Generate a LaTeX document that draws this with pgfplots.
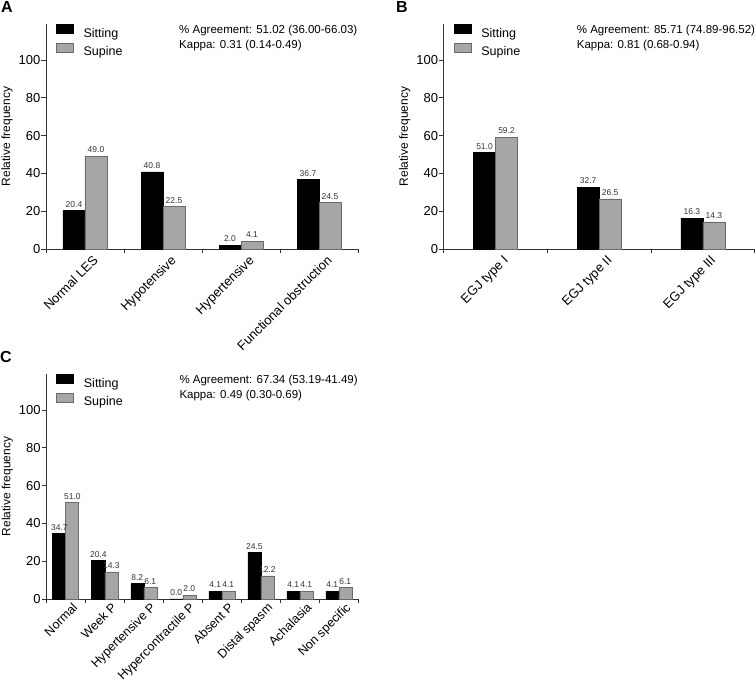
\documentclass[border=0pt]{standalone}
\usepackage{pgfplots}
\pgfplotsset{compat=1.18}
\usepackage{fontspec}
\setmainfont{Liberation Sans}
\definecolor{supfill}{HTML}{A6A6A6}
\definecolor{supedge}{HTML}{6B6B6B}
\definecolor{axcol}{HTML}{333333}
\definecolor{lblcol}{HTML}{333333}
\newcommand{\mainfont}{\fontsize{12}{14}\selectfont}
\newcommand{\tickfont}{\fontsize{13}{15}\selectfont}
\newcommand{\annfont}{\fontsize{11.5}{14}\selectfont}
\newcommand{\legfont}{\fontsize{12.5}{14}\selectfont}
\pgfplotsset{
  panel/.style={
    scale only axis, height=225pt, ymin=0, ymax=119, clip=false,
    axis lines=left, axis line style={-, draw=axcol, line width=0.8pt},
    ytick={0,20,...,100}, tick align=outside, major tick length=4.5pt,
    tick style={draw=axcol, line width=0.8pt},
    /pgf/number format/assume math mode=true,
    tick label style={font=\tickfont, text=black},
    yticklabel style={inner sep=1pt},
    xticklabel={\relax},
    ylabel={Relative frequency},
    every axis y label/.style={at={(axis description cs:-0.125,0.5)}, rotate=90, anchor=center, font=\mainfont},
    nodes near coords={\pgfmathprintnumber[fixed,fixed zerofill,precision=1,assume math mode=true]{\pgfplotspointmeta}},
    nodes near coords style={font=\fontsize{8.5}{9}\selectfont, text=lblcol, inner sep=0pt, anchor=south, yshift=3pt},
    legend style={at={(axis description cs:0,1)}, anchor=north west, xshift=10pt,
      draw=none, fill=none, inner sep=0pt, outer sep=0pt, row sep=2.5pt,
      font=\legfont, nodes={inner sep=0pt, text height=9.5pt, text depth=3pt},
      /tikz/every odd column/.append style={column sep=10pt}},
    legend cell align=left,
  },
  xlab/.style n args={3}{extra x tick style={major tick length=0pt,
      tick label style={xshift=#1, yshift=#2, rotate=45, anchor=north east, inner sep=1pt, font=#3}}},
  sqlegend/.style={legend image code/.code={\draw[##1] (0pt,0pt) rectangle (17pt,9.5pt);}},
  sit/.style={ybar, fill=black, draw=black, line width=0.6pt, sqlegend, bar shift=#1,
    nodes near coords style={xshift=#1}},
  sup/.style={ybar, fill=supfill, draw=supedge, line width=0.6pt, sqlegend, bar shift=#1,
    nodes near coords style={xshift=#1}},
}
\begin{document}
\begin{tikzpicture}[x=1pt,y=1pt]
% Panel A
\begin{axis}[panel, xlab={7pt}{-4pt}{\tickfont}, at={(46pt,437pt)}, anchor=south west, width=312pt,
  xmin=-0.5, xmax=3.5, xtick={-0.5,0.5,1.5,2.5,3.5},
  extra x ticks={0,1,2,3},
  extra x tick labels={Normal LES,Hypotensive,Hypertensive,Functional obstruction}]
\addplot[sit=-11pt, bar width=22pt] coordinates {(0,20.4) (1,40.8) (2,2.0) (3,36.7)};
\addlegendentry{Sitting}
\addplot[sup=11pt, bar width=22pt] coordinates {(0,49.0) (1,22.5) (2,4.1) (3,24.5)};
\addlegendentry{Supine}
\node[anchor=base west, font=\annfont, xshift=133pt, yshift=-10pt, inner sep=0pt] at (rel axis cs:0,1) {\% Agreement: 51.02 (36.00-66.03)};
\node[anchor=base west, font=\annfont, xshift=133pt, yshift=-25pt, inner sep=0pt] at (rel axis cs:0,1) {Kappa: 0.31 (0.14-0.49)};
\end{axis}
% Panel B
\begin{axis}[panel, xlab={7pt}{-4pt}{\tickfont}, at={(443.7pt,437pt)}, anchor=south west, width=311pt,
  xmin=-0.5, xmax=2.5, xtick={-0.5,0.5,1.5,2.5},
  extra x ticks={0,1,2},
  extra x tick labels={EGJ type I,EGJ type II,EGJ type III}]
\addplot[sit=-11pt, bar width=22pt] coordinates {(0,51.0) (1,32.7) (2,16.3)};
\addlegendentry{Sitting}
\addplot[sup=11pt, bar width=22pt] coordinates {(0,59.2) (1,26.5) (2,14.3)};
\addlegendentry{Supine}
\node[anchor=base west, font=\annfont, xshift=133pt, yshift=-10pt, inner sep=0pt] at (rel axis cs:0,1) {\% Agreement: 85.71 (74.89-96.52)};
\node[anchor=base west, font=\annfont, xshift=133pt, yshift=-25pt, inner sep=0pt] at (rel axis cs:0,1) {Kappa: 0.81 (0.68-0.94)};
\end{axis}
% Panel C
\begin{axis}[panel, xlab={6pt}{-1.5pt}{\fontsize{12.5}{14}\selectfont}, at={(46.3pt,87pt)}, anchor=south west, width=312pt,
  xmin=-0.5, xmax=7.5, xtick={-0.5,0.5,...,7.5},
  extra x ticks={0,1,2,3,4,5,6,7},
  extra x tick labels={Normal,Week P,Hypertensive P,Hypercontractile P,Absent P,Distal spasm,Achalasia,Non specific}]
\addplot[sit=-6.5pt, bar width=13pt] coordinates {(0,34.7) (1,20.4) (2,8.2) (3,0.0) (4,4.1) (5,24.5) (6,4.1) (7,4.1)};
\addlegendentry{Sitting}
\addplot[sup=6.5pt, bar width=13pt] coordinates {(0,51.0) (1,14.3) (2,6.1) (3,2.0) (4,4.1) (5,12.2) (6,4.1) (7,6.1)};
\addlegendentry{Supine}
\node[anchor=base west, font=\annfont, xshift=133pt, yshift=-10pt, inner sep=0pt] at (rel axis cs:0,1) {\% Agreement: 67.34 (53.19-41.49)};
\node[anchor=base west, font=\annfont, xshift=133pt, yshift=-25pt, inner sep=0pt] at (rel axis cs:0,1) {Kappa: 0.49 (0.30-0.69)};
\end{axis}
% Panel letters
\node[anchor=base west, inner sep=0pt, font=\fontsize{16}{16}\selectfont\bfseries] at (1pt,673pt) {A};
\node[anchor=base west, inner sep=0pt, font=\fontsize{16}{16}\selectfont\bfseries] at (396pt,673pt) {B};
\node[anchor=base west, inner sep=0pt, font=\fontsize{16}{16}\selectfont\bfseries] at (0pt,323pt) {C};
\pgfresetboundingbox
\path (0pt,0pt) rectangle (756pt,686pt);
\end{tikzpicture}
\end{document}
